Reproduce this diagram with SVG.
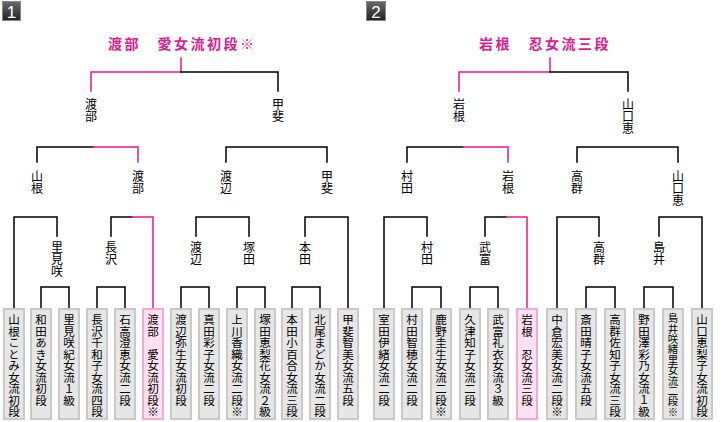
<svg xmlns="http://www.w3.org/2000/svg" width="724" height="422" viewBox="0 0 724 422">
<style>
.ln{stroke:#000;stroke-width:1.5;fill:none;stroke-linecap:square}
.pk{stroke:#e4198f;stroke-width:1.5;fill:none;stroke-linecap:square}
.box{fill:#e6e6e6;stroke:#c9c9c9;stroke-width:2}
.pbox{fill:#ffe1f1;stroke:#f4aad6;stroke-width:2}
.v{font-family:"Noto Sans CJK JP","DejaVu Sans",sans-serif;font-size:11.5px;writing-mode:vertical-rl;fill:#000}
.v10{font-size:10.4px}
.lab{font-family:"Noto Sans CJK JP","DejaVu Sans",sans-serif;font-size:12px;writing-mode:vertical-rl;fill:#000}
.title{font-family:"Noto Sans CJK JP","DejaVu Sans",sans-serif;font-size:14px;font-weight:bold;fill:#e4198f;letter-spacing:2.5px}
.badge{stroke:#888;stroke-width:1}
.bnum{font-family:"Liberation Sans","DejaVu Sans",sans-serif;font-size:17px;fill:#fff;text-anchor:middle}
</style>
<defs>
<linearGradient id="bg" x1="0" y1="0" x2="0" y2="1">
<stop offset="0" stop-color="#6a6a6a"/>
<stop offset="1" stop-color="#222"/>
</linearGradient>
</defs>
<rect width="724" height="422" fill="#fff"/>

<g id="badge1"><rect class="badge" x="2.5" y="1.5" width="18" height="19" fill="url(#bg)"/><text class="bnum" x="11.5" y="18">1</text></g>
<g id="badge2"><rect class="badge" x="366.5" y="1.5" width="19" height="19" fill="url(#bg)"/><text class="bnum" x="376" y="18">2</text></g>

<g id="title1"><text class="title" x="108" y="49">渡部　愛女流初段※</text></g>
<g id="title2"><text class="title" x="479" y="49">岩根　忍女流三段</text></g>

<g id="connectors">
<!-- bracket 1 -->
<path class="pk" d="M181 58V72H91V91"/>
<path class="ln" d="M181 72H278V91"/>
<path class="ln" d="M37 162V147H93"/>
<path class="pk" d="M93 147H138V162"/>
<path class="ln" d="M226 162V147H327V162"/>
<path class="ln" d="M14 308V217H57V236"/>
<path class="ln" d="M111 236V217H132"/>
<path class="pk" d="M132 217H153V308"/>
<path class="ln" d="M196 236V217H249V236"/>
<path class="ln" d="M305 236V217H348V308"/>
<path class="ln" d="M41 308V287H69V308"/>
<path class="ln" d="M97 308V287H125V308"/>
<path class="ln" d="M181 308V287H209V308"/>
<path class="ln" d="M237 308V287H265V308"/>
<path class="ln" d="M292 308V287H320V308"/>
<!-- bracket 2 -->
<path class="pk" d="M550 58V72H459V91"/>
<path class="ln" d="M550 72H628V91"/>
<path class="ln" d="M407 162V147H463"/>
<path class="pk" d="M463 147H508V162"/>
<path class="ln" d="M577 162V147H678V162"/>
<path class="ln" d="M384 308V217H427V236"/>
<path class="ln" d="M485 236V217H506"/>
<path class="pk" d="M506 217H527V308"/>
<path class="ln" d="M557 308V217H599V236"/>
<path class="ln" d="M659 236V217H702V308"/>
<path class="ln" d="M412 308V287H441V308"/>
<path class="ln" d="M470 308V287H498V308"/>
<path class="ln" d="M586 308V287H615V308"/>
<path class="ln" d="M644 308V287H673V308"/>
</g>

<!-- bracket 1 labels -->
<g id="l1-top-watanabe"><text class="lab" x="91" y="98">渡部</text></g>
<g id="l1-top-kai"><text class="lab" x="278" y="98">甲斐</text></g>
<g id="l1-s-yamane"><text class="lab" x="37" y="170">山根</text></g>
<g id="l1-s-watanabe"><text class="lab" x="138" y="170">渡部</text></g>
<g id="l1-s-watanabe2"><text class="lab" x="226" y="170">渡辺</text></g>
<g id="l1-s-kai"><text class="lab" x="327" y="170">甲斐</text></g>
<g id="l1-q-satomi"><text class="lab" x="57" y="241">里見咲</text></g>
<g id="l1-q-nagasawa"><text class="lab" x="111" y="241">長沢</text></g>
<g id="l1-q-watanabe2"><text class="lab" x="196" y="241">渡辺</text></g>
<g id="l1-q-tsukada"><text class="lab" x="249" y="241">塚田</text></g>
<g id="l1-q-honda"><text class="lab" x="305" y="241">本田</text></g>

<!-- bracket 2 labels -->
<g id="l2-top-iwane"><text class="lab" x="459" y="98">岩根</text></g>
<g id="l2-top-yamaguchi"><text class="lab" x="628" y="98">山口恵</text></g>
<g id="l2-s-murata"><text class="lab" x="407" y="170">村田</text></g>
<g id="l2-s-iwane"><text class="lab" x="508" y="170">岩根</text></g>
<g id="l2-s-takamure"><text class="lab" x="577" y="170">高群</text></g>
<g id="l2-s-yamaguchi"><text class="lab" x="678" y="170">山口恵</text></g>
<g id="l2-q-murata"><text class="lab" x="427" y="241">村田</text></g>
<g id="l2-q-taketomi"><text class="lab" x="485" y="241">武富</text></g>
<g id="l2-q-takamure"><text class="lab" x="599" y="241">高群</text></g>
<g id="l2-q-shimai"><text class="lab" x="659" y="241">島井</text></g>

<!-- bracket 1 players -->
<g id="p1-1"><rect class="box" x="4" y="309" width="20" height="110"/><text class="v" x="14" y="314">山根ことみ女流初段</text></g>
<g id="p1-2"><rect class="box" x="31" y="309" width="20" height="110"/><text class="v" x="41" y="314">和田あき女流初段</text></g>
<g id="p1-3"><rect class="box" x="59" y="309" width="20" height="110"/><text class="v" x="69" y="314">里見咲紀女流１級</text></g>
<g id="p1-4"><rect class="box" x="87" y="309" width="20" height="110"/><text class="v" x="97" y="314">長沢千和子女流四段</text></g>
<g id="p1-5"><rect class="box" x="115" y="309" width="20" height="110"/><text class="v" x="125" y="314">石高澄恵女流二段</text></g>
<g id="p1-6"><rect class="pbox" x="143" y="309" width="20" height="110"/><text class="v" x="153" y="314">渡部　愛女流初段※</text></g>
<g id="p1-7"><rect class="box" x="171" y="309" width="20" height="110"/><text class="v" x="181" y="314">渡辺弥生女流初段</text></g>
<g id="p1-8"><rect class="box" x="199" y="309" width="20" height="110"/><text class="v" x="209" y="314">真田彩子女流二段</text></g>
<g id="p1-9"><rect class="box" x="227" y="309" width="20" height="110"/><text class="v" x="237" y="314">上川香織女流二段※</text></g>
<g id="p1-10"><rect class="box" x="255" y="309" width="20" height="110"/><text class="v" x="265" y="314">塚田恵梨花女流２級</text></g>
<g id="p1-11"><rect class="box" x="282" y="309" width="20" height="110"/><text class="v" x="292" y="314">本田小百合女流三段</text></g>
<g id="p1-12"><rect class="box" x="310" y="309" width="20" height="110"/><text class="v" x="320" y="314">北尾まどか女流二段</text></g>
<g id="p1-13"><rect class="box" x="338" y="309" width="20" height="110"/><text class="v" x="348" y="314">甲斐智美女流五段</text></g>

<!-- bracket 2 players -->
<g id="p2-1"><rect class="box" x="374" y="309" width="20" height="110"/><text class="v" x="384" y="314">室田伊緒女流二段</text></g>
<g id="p2-2"><rect class="box" x="402" y="309" width="20" height="110"/><text class="v" x="412" y="314">村田智穂女流二段</text></g>
<g id="p2-3"><rect class="box" x="431" y="309" width="20" height="110"/><text class="v" x="441" y="314">鹿野圭生女流二段※</text></g>
<g id="p2-4"><rect class="box" x="460" y="309" width="20" height="110"/><text class="v" x="470" y="314">久津知子女流二段</text></g>
<g id="p2-5"><rect class="box" x="488" y="309" width="20" height="110"/><text class="v" x="498" y="314">武富礼衣女流３級</text></g>
<g id="p2-6"><rect class="pbox" x="517" y="309" width="20" height="110"/><text class="v" x="527" y="314">岩根　忍女流三段</text></g>
<g id="p2-7"><rect class="box" x="547" y="309" width="20" height="110"/><text class="v" x="557" y="314">中倉宏美女流二段※</text></g>
<g id="p2-8"><rect class="box" x="576" y="309" width="20" height="110"/><text class="v" x="586" y="314">斎田晴子女流五段</text></g>
<g id="p2-9"><rect class="box" x="605" y="309" width="20" height="110"/><text class="v" x="615" y="314">高群佐知子女流三段</text></g>
<g id="p2-10"><rect class="box" x="634" y="309" width="20" height="110"/><text class="v" x="644" y="314">野田澤彩乃女流１級</text></g>
<g id="p2-11"><rect class="box" x="663" y="309" width="20" height="110"/><text class="v v10" x="673" y="313">島井咲緒里女流二段※</text></g>
<g id="p2-12"><rect class="box" x="692" y="309" width="20" height="110"/><text class="v" x="702" y="314">山口恵梨子女流初段</text></g>
</svg>
